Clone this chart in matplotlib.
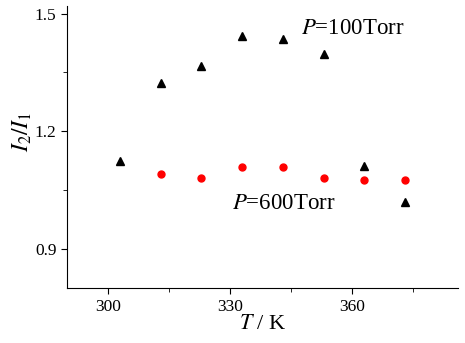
import matplotlib
matplotlib.use("Agg")
import matplotlib.pyplot as plt
from matplotlib.ticker import MultipleLocator

plt.rcParams['font.family'] = 'Liberation Serif'
plt.rcParams['mathtext.fontset'] = 'stix'

# data
T_100 = [303, 313, 323, 333, 343, 353, 363, 373]
r_100 = [1.125, 1.324, 1.366, 1.444, 1.435, 1.396, 1.112, 1.020]
T_600 = [313, 323, 333, 343, 353, 363, 373]
r_600 = [1.090, 1.080, 1.110, 1.109, 1.080, 1.076, 1.075]

fig = plt.figure(figsize=(4.65, 3.43), dpi=100)
ax = fig.add_axes([0.144, 0.160, 0.841, 0.823])

ax.plot(T_100, r_100, '^', color='black', markersize=6, linestyle='none')
ax.plot(T_600, r_600, 'o', color='red', markersize=5, linestyle='none')

ax.text(347.5, 1.461, r'$P$=100Torr', fontsize=16.5, va='center', ha='left')
ax.text(330.4, 1.015, r'$P$=600Torr', fontsize=16.5, va='center', ha='left')

ax.set_xlim(290, 386)
ax.set_ylim(0.8, 1.52)
ax.xaxis.set_major_locator(MultipleLocator(30))
ax.xaxis.set_minor_locator(MultipleLocator(15))
ax.yaxis.set_major_locator(MultipleLocator(0.3))
ax.yaxis.set_minor_locator(MultipleLocator(0.15))
ax.yaxis.set_major_formatter(matplotlib.ticker.FormatStrFormatter('%.1f'))
ax.tick_params(which='major', length=4, labelsize=12.5)
ax.tick_params(which='minor', length=3)

for s in ['top', 'right']:
    ax.spines[s].set_visible(False)

ax.set_xlabel(r'$T$ / K', fontsize=16, labelpad=0)
ax.set_ylabel(r'$I_2/I_1$', fontsize=17)
ax.yaxis.set_label_coords(-0.085, 0.555)

fig.savefig('out.png', dpi=100)
